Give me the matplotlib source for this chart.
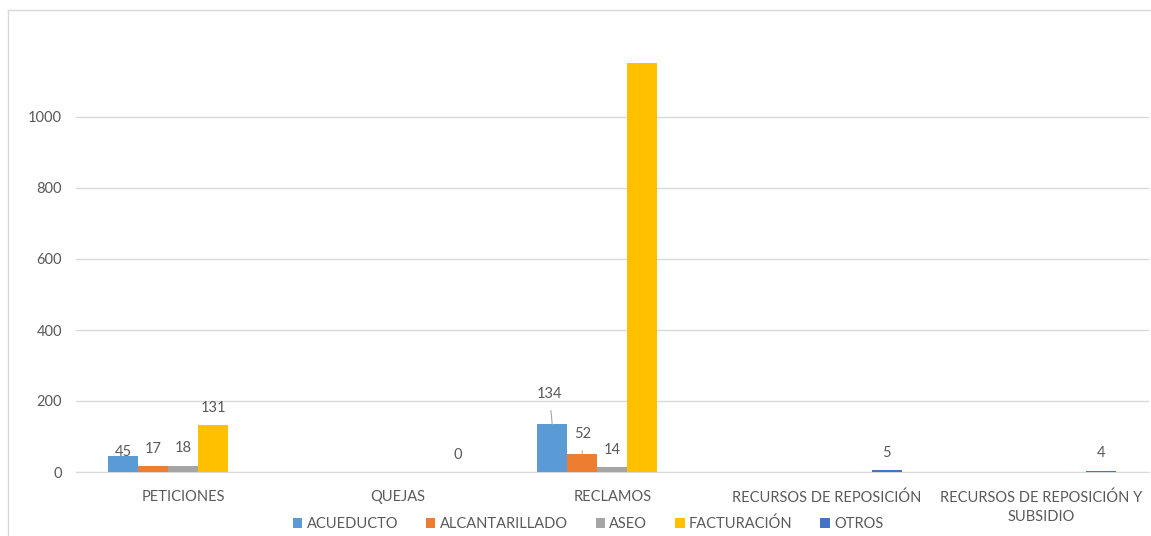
import matplotlib.pyplot as plt
import numpy as np
from matplotlib.lines import Line2D

categorias = ['PETICIONES', 'QUEJAS', 'RECLAMOS', 'RECURSOS DE REPOSICIÓN',
              'RECURSOS DE REPOSICIÓN Y\nSUBSIDIO']
series = ['ACUEDUCTO', 'ALCANTARILLADO', 'ASEO', 'FACTURACIÓN', 'OTROS']
acueducto = [45, np.nan, 134, np.nan, np.nan]
alcantarillado = [17, np.nan, 52, np.nan, np.nan]
aseo = [18, np.nan, 14, np.nan, np.nan]
facturacion = [131, np.nan, 1152, np.nan, np.nan]
otros = [np.nan, 0, np.nan, 5, 4]
colores = ['#5B9BD5', '#ED7D31', '#A5A5A5', '#FFC000', '#4472C4']

valores = [acueducto, alcantarillado, aseo, facturacion, otros]

txt = '#595959'
fs = 10.5
plt.rcParams['font.family'] = ['Lato', 'DejaVu Sans']

fig = plt.figure(figsize=(11.51, 5.36), dpi=100)
ax = fig.add_axes([76 / 1151, 64 / 536, 1072.5 / 1151, 426 / 536])

x = np.arange(len(categorias))
w = 0.14
for i, (nombre, vals) in enumerate(zip(series, valores)):
    pos = x + (i - 2) * w
    ax.bar(pos, vals, w, color=colores[i], label=nombre, zorder=3)
    for j, v in enumerate(vals):
        if np.isnan(v):
            continue
        if nombre == 'FACTURACIÓN' and categorias[j] == 'RECLAMOS':
            continue  # sin etiqueta en el original
        if categorias[j] == 'RECLAMOS' and nombre in ('ACUEDUCTO', 'ALCANTARILLADO'):
            # etiquetas movidas con linea guia
            dy = 22 if nombre == 'ACUEDUCTO' else 14
            dx = -2 if nombre == 'ACUEDUCTO' else 0
            ax.annotate('%d' % v, xy=(pos[j], v), xytext=(dx, dy), textcoords='offset points',
                        ha='center', va='center', fontsize=fs, color=txt,
                        arrowprops=dict(arrowstyle='-', color='#A6A6A6', lw=0.8,
                                        shrinkA=5, shrinkB=0))
            continue
        off = 3 if v == 45 else 12.5
        ax.annotate('%d' % v, xy=(pos[j], v), xytext=(0, off),
                    textcoords='offset points', ha='center', va='center',
                    fontsize=fs, color=txt)

ax.set_xlim(-0.5, len(categorias) - 0.5)
ax.set_ylim(0, 1200)
ax.set_yticks([0, 200, 400, 600, 800, 1000])
ax.yaxis.grid(True, color='#D9D9D9', lw=1, zorder=0)
ax.set_xticks(x)
ax.set_xticklabels(categorias, fontsize=fs, color=txt, linespacing=1.45)
ax.tick_params(axis='y', labelsize=fs, labelcolor=txt, length=0, pad=10)
ax.tick_params(axis='x', length=0, pad=13)
for s in ['top', 'right', 'left']:
    ax.spines[s].set_visible(False)
ax.spines['bottom'].set_color('#D9D9D9')
ax.spines['bottom'].set_zorder(1)

ax.legend(loc='lower center', bbox_to_anchor=(588 / 1151, -8 / 536), bbox_transform=fig.transFigure,
          ncol=5, frameon=False, fontsize=fs, labelcolor=txt, handlelength=0.65,
          handleheight=0.65, handletextpad=0.3, columnspacing=1.9)

# marco del gráfico (recortado)
fig.add_artist(Line2D([8 / 1151, 8 / 1151], [0, 1 - 10 / 536], color='#D9D9D9', lw=1))
fig.add_artist(Line2D([8 / 1151, 1], [1 - 10 / 536, 1 - 10 / 536], color='#D9D9D9', lw=1))

fig.savefig('out.png', dpi=100)
